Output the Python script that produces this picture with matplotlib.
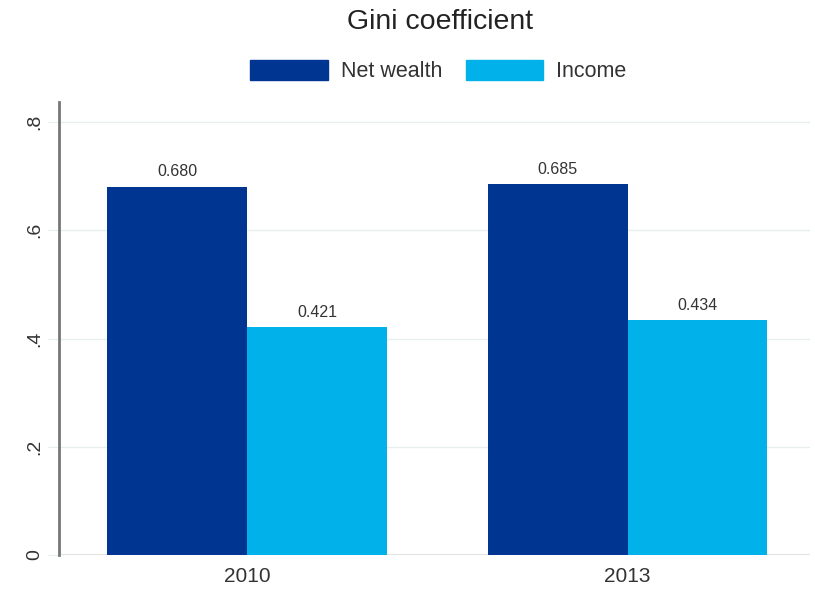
import matplotlib
matplotlib.use("Agg")
import matplotlib.pyplot as plt
import numpy as np
from matplotlib.patches import Patch

plt.rcParams["font.family"] = ["Liberation Sans", "DejaVu Sans"]

years = ["2010", "2013"]
series_names = ["Net wealth", "Income"]
net_wealth = [0.680, 0.685]
income = [0.421, 0.434]
yticks = [0, 0.2, 0.4, 0.6, 0.8]
ytick_labels = ["0", ".2", ".4", ".6", ".8"]

dark_blue = "#003591"
light_blue = "#00b1ea"

fig = plt.figure(figsize=(8.15, 5.89), dpi=100)
ax = fig.add_axes([0.0724, 0.0577, 0.922, 0.769])

x = np.arange(len(years))
w = 0.368
b1 = ax.bar(x - w / 2, net_wealth, w, color=dark_blue, zorder=3)
b2 = ax.bar(x + w / 2, income, w, color=light_blue, zorder=3)

for bars, vals in ((b1, net_wealth), (b2, income)):
    for r, v in zip(bars, vals):
        ax.text(r.get_x() + r.get_width() / 2, v + 0.014, f"{v:.3f}",
                ha="center", va="bottom", fontsize=11.5, color="#333333")

ax.set_xlim(-0.495, 1.481)
ax.set_ylim(0, 0.837)
ax.set_yticks(yticks)
ax.set_yticklabels(ytick_labels, rotation=90, va="center", fontsize=14, color="#333333")
ax.set_xticks(x)
ax.set_xticklabels(years, fontsize=15, color="#333333")
ax.tick_params(axis="x", length=0, pad=8.5)
ax.tick_params(axis="y", length=8, color="#e8eeee", pad=3)

ax.grid(axis="y", color="#e8eeee", linewidth=1, zorder=0)
for s in ("top", "right", "bottom"):
    ax.spines[s].set_visible(False)
ax.spines["left"].set_color("#777777")
ax.spines["left"].set_linewidth(2)
ax.axhline(0, color="#e3e3e3", linewidth=1.5, zorder=2)

handles = [Patch(color=dark_blue), Patch(color=light_blue)]
fig.legend(handles, series_names, loc="center", bbox_to_anchor=(0.538, 0.879),
           ncol=2, frameon=False, fontsize=15.5, handlelength=3.6, handleheight=1.0,
           columnspacing=1.1, handletextpad=0.6, labelcolor="#333333")

fig.text(0.54, 0.962, "Gini coefficient", ha="center", va="center", fontsize=20.5, color="#222222")

fig.savefig("out.png", dpi=100, facecolor="white")
